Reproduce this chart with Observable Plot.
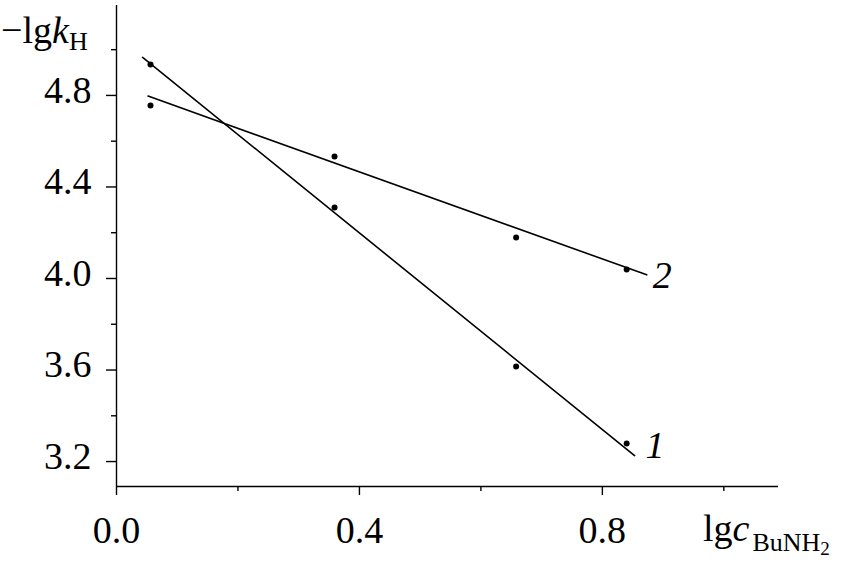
<!DOCTYPE html>
<html>
<head>
<meta charset="utf-8">
<script src="https://cdn.jsdelivr.net/npm/d3@7"></script>
<script src="https://cdn.jsdelivr.net/npm/@observablehq/plot@0.6"></script>
<style>
  html, body { margin: 0; padding: 0; background: #fff; }
  #chart svg { display: block; overflow: visible; }
</style>
</head>
<body>
<div id="chart"></div>
<script>
// Measured points (lg c_BuNH2, -lg k_H)
const xs = [0.056, 0.359, 0.658, 0.840];
const series1 = [4.935, 4.310, 3.615, 3.279];
const series2 = [4.756, 4.533, 4.179, 4.039];
// Fitted lines: endpoints
const fit1X = [0.043, 0.853];
const fit1Y = [4.966, 3.226];
const fit2X = [0.052, 0.873];
const fit2Y = [4.797, 4.016];
// Axis ticks
const xMajor = [0.0, 0.4, 0.8];
const xMinor = [0.2, 0.6, 1.0];
const yMajor = [3.2, 3.6, 4.0, 4.4, 4.8];
const yMinor = [3.4, 3.8, 4.2, 4.6, 5.0];
const xDomain = [0, 1.09];
const yDomain = [3.091, 5.193];

const pts1 = xs.map((x, i) => ({x, y: series1[i]}));
const pts2 = xs.map((x, i) => ({x, y: series2[i]}));
const line1 = fit1X.map((x, i) => ({x, y: fit1Y[i]}));
const line2 = fit2X.map((x, i) => ({x, y: fit2Y[i]}));

const font = "'Liberation Serif', 'Times New Roman', serif";
const fmt = d3.format(".1f");

const plot = Plot.plot({
  width: 841,
  height: 571,
  marginLeft: 116,
  marginRight: 63,
  marginTop: 5,
  marginBottom: 85,
  style: {fontFamily: font, background: "#fff", color: "#000"},
  x: {domain: xDomain, axis: null},
  y: {domain: yDomain, axis: null},
  marks: [
    Plot.ruleX([xDomain[0]], {stroke: "#000", strokeWidth: 1.4}),
    Plot.ruleY([yDomain[0]], {stroke: "#000", strokeWidth: 1.4}),
    Plot.axisX({ticks: xMajor, tickSize: 9, tickPadding: 21, fontSize: 38, tickFormat: fmt, label: null, strokeWidth: 1.4}),
    Plot.axisX({ticks: xMinor, tickSize: 5, tickFormat: () => "", label: null, strokeWidth: 1.4}),
    Plot.axisY({ticks: yMajor, tickSize: 10, tickFormat: () => "", label: null, strokeWidth: 1.4}),
    Plot.axisY({ticks: yMajor, tickSize: 0, tickPadding: 25, fontSize: 38, dy: -5, tickFormat: fmt, label: null}),
    Plot.axisY({ticks: yMinor, tickSize: 5, tickFormat: () => "", label: null, strokeWidth: 1.4}),
    Plot.line(line1, {x: "x", y: "y", stroke: "#000", strokeWidth: 1.6}),
    Plot.line(line2, {x: "x", y: "y", stroke: "#000", strokeWidth: 1.6}),
    Plot.dot(pts1, {x: "x", y: "y", r: 3, fill: "#000", stroke: "none"}),
    Plot.dot(pts2, {x: "x", y: "y", r: 3, fill: "#000", stroke: "none"}),
    Plot.text([line1[1]], {x: "x", y: "y", text: () => "1", textAnchor: "start", dx: 11, dy: -10, fontSize: 38, fontStyle: "italic", fill: "#000"}),
    Plot.text([line2[1]], {x: "x", y: "y", text: () => "2", textAnchor: "start", dx: 6, dy: 1, fontSize: 38, fontStyle: "italic", fill: "#000"})
  ]
});

document.getElementById("chart").appendChild(plot);

const svg = d3.select(plot);
// Y-axis title: −lg k_H
const yl = svg.append("text")
  .attr("x", 1).attr("y", 43).attr("text-anchor", "start")
  .attr("font-family", font).attr("font-size", 38).attr("fill", "#000");
yl.append("tspan").text("\u2212lg");
yl.append("tspan").attr("font-style", "italic").text("k");
yl.append("tspan").attr("font-size", 26).attr("dy", 7).text("H");

// X-axis title: lg c_BuNH2
const xl = svg.append("text")
  .attr("x", 703).attr("y", 541).attr("text-anchor", "start")
  .attr("font-family", font).attr("font-size", 38).attr("fill", "#000");
xl.append("tspan").text("lg");
xl.append("tspan").attr("font-style", "italic").text("c");
xl.append("tspan").attr("font-size", 26).attr("dy", 10).attr("dx", 3).text("BuNH");
xl.append("tspan").attr("font-size", 19).attr("dy", 4).text("2");
</script>
</body>
</html>
